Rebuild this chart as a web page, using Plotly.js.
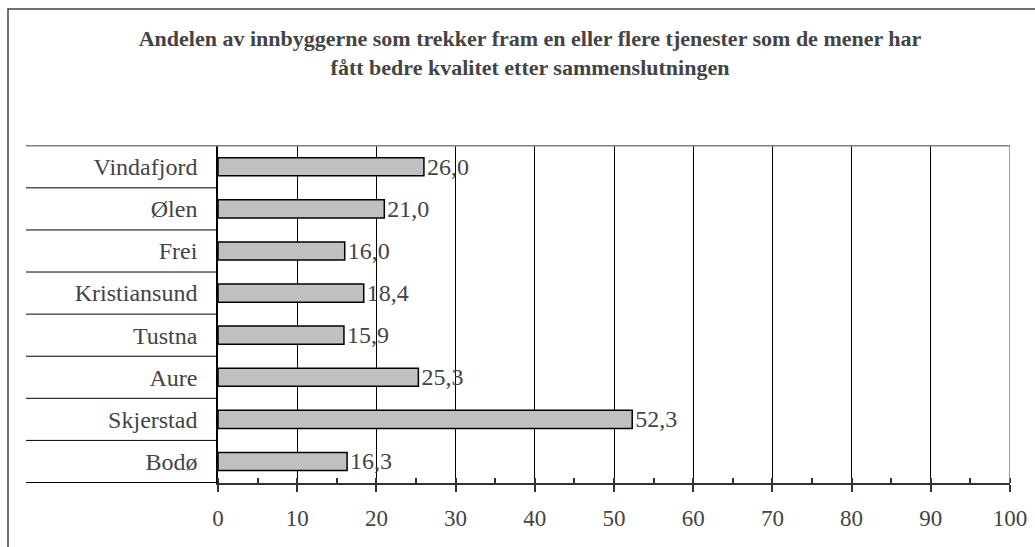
<!DOCTYPE html>
<html>
<head>
<meta charset="utf-8">
<script src="https://cdn.plot.ly/plotly-3.0.1.min.js"></script>
</head>
<body style="margin:0">
<div id="chart"></div>
<script>
const categories = ["Vindafjord", "Ølen", "Frei", "Kristiansund", "Tustna", "Aure", "Skjerstad", "Bodø"];
const values = [26.0, 21.0, 16.0, 18.4, 15.9, 25.3, 52.3, 16.3];
const titleText = "<b>Andelen av innbyggerne som trekker fram en eller flere tjenester som de mener har<br>fått bedre kvalitet etter sammenslutningen</b>";
const xTicks = [0, 10, 20, 30, 40, 50, 60, 70, 80, 90, 100];

const plotLeft = 218, plotRight = 1010, plotTop = 145, plotBottom = 483;
const W = 1035, H = 547;
const pw = plotRight - plotLeft, ph = plotBottom - plotTop;
const sepLeft = (26 - plotLeft) / pw;

const shapes = [];
for (let i = 0; i <= categories.length; i++) {
  const yb = i - 0.5;
  shapes.push({type: 'line', xref: 'paper', yref: 'y', x0: sepLeft, x1: i === 0 ? 1 : 0, y0: yb, y1: yb,
    line: {color: i === 0 ? '#808080' : '#000', width: i === 0 ? 1.5 : 1}, layer: 'above'});
}
shapes.push({type: 'line', xref: 'x', yref: 'paper', x0: xTicks[xTicks.length - 1], x1: xTicks[xTicks.length - 1],
  y0: 0, y1: 1, line: {color: '#808080', width: 1.5}});
shapes.push({type: 'rect', xref: 'paper', yref: 'paper',
  x0: (8 - plotLeft) / pw, x1: (W + 10 - plotLeft) / pw,
  y0: (plotBottom - (H + 10)) / ph, y1: (plotBottom - 9) / ph,
  line: {color: '#404040', width: 1.5}, fillcolor: 'rgba(0,0,0,0)'});

const trace = {
  type: 'bar', orientation: 'h',
  y: categories, x: values,
  width: 0.43,
  marker: {color: '#c0c0c0', line: {color: '#000', width: 1.5}},
  texttemplate: '%{x:.1f}', textposition: 'outside', cliponaxis: false,
  constraintext: 'none',
  textfont: {family: 'Liberation Serif', size: 24},
  hoverinfo: 'none'
};

const layout = {
  width: W, height: H,
  margin: {l: plotLeft, r: W - plotRight, t: plotTop, b: H - plotBottom, pad: 0},
  separators: ', ',
  title: {text: titleText, font: {family: 'Liberation Serif', size: 22},
    xref: 'container', x: 530 / W, xanchor: 'center', yref: 'container', y: 1 - 46 / H, yanchor: 'top'},
  showlegend: false,
  xaxis: {range: [0, 100], tickvals: xTicks, ticktext: xTicks.map(String),
    showgrid: true, gridcolor: '#000', gridwidth: 1,
    showline: true, linecolor: '#333', linewidth: 2,
    ticks: 'outside', ticklen: 7, tickcolor: '#333', tickwidth: 1.5,
    minor: {dtick: 5, tick0: 0, ticks: 'inside', ticklen: 5, tickcolor: '#333', tickwidth: 1.5, showgrid: false},
    zeroline: false, fixedrange: true, ticklabelstandoff: 6,
    tickfont: {family: 'Liberation Serif', size: 23}},
  yaxis: {type: 'category', autorange: 'reversed', showgrid: false, zeroline: false,
    showline: true, linecolor: '#000', linewidth: 1.5, ticks: '', fixedrange: true,
    ticklabelstandoff: 14,
    tickfont: {family: 'Liberation Serif', size: 24}},
  shapes: shapes
};

Plotly.newPlot('chart', [trace], layout, {displayModeBar: false});
</script>
</body>
</html>
